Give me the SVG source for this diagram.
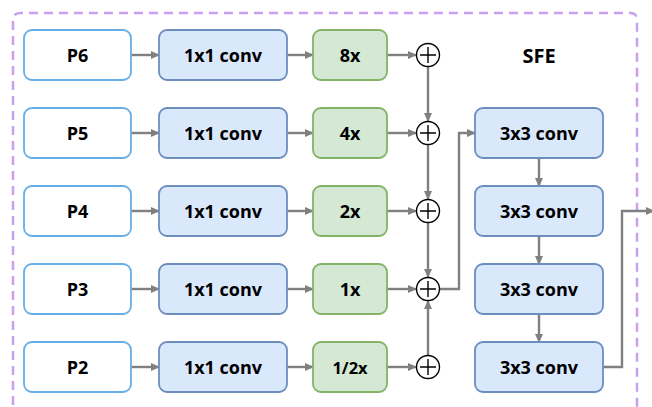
<svg xmlns="http://www.w3.org/2000/svg" width="652" height="407" viewBox="0 0 652 407">
<defs>
<style>
.p{fill:#fff;stroke:#66aee8;stroke-width:1.8}
.c{fill:#dae8fc;stroke:#6c8ebf;stroke-width:1.8}
.g{fill:#d5e8d4;stroke:#82b366;stroke-width:1.8}
.t{font-family:"Open Sans","Liberation Sans",sans-serif;font-weight:bold;font-size:18px;fill:#000;text-anchor:middle;dominant-baseline:central}
.e{fill:none;stroke:#808080;stroke-width:2.4;marker-end:url(#a)}
.s{fill:#fff;stroke:#000;stroke-width:1.4}
.x{stroke:#000;stroke-width:1.4}
</style>
<marker id="a" markerWidth="10" markerHeight="10" refX="8" refY="5" orient="auto" markerUnits="userSpaceOnUse">
<path d="M0,1 L9,5 L0,9 Z" fill="#808080"/>
</marker>
</defs>
<rect width="652" height="407" fill="#fff"/>
<path d="M13,420 L13,20 Q13,13 20,13 L630,13 Q637,13 637,20 L637,420" fill="none" stroke="#c9a0f0" stroke-width="2.5" stroke-dasharray="9,6"/>
<text class="t" x="539" y="55" style="font-size:20px">SFE</text>
<g id="connectors">
<path class="e" d="M131,55 H159"/><path class="e" d="M287,55 H313"/><path class="e" d="M387,55 H416"/>
<path class="e" d="M131,133 H159"/><path class="e" d="M287,133 H313"/><path class="e" d="M387,133 H416"/>
<path class="e" d="M131,211 H159"/><path class="e" d="M287,211 H313"/><path class="e" d="M387,211 H416"/>
<path class="e" d="M131,289 H159"/><path class="e" d="M287,289 H313"/><path class="e" d="M387,289 H416"/>
<path class="e" d="M131,367 H159"/><path class="e" d="M287,367 H313"/><path class="e" d="M387,367 H416"/>
<path class="e" d="M428,67 V121"/>
<path class="e" d="M428,145 V199"/>
<path class="e" d="M428,223 V277"/>
<path class="e" d="M428,355 V301"/>
<path class="e" d="M440,289 H459 V133 H475"/>
<path class="e" d="M539,158 V186"/>
<path class="e" d="M539,236 V264"/>
<path class="e" d="M539,314 V342"/>
<path class="e" d="M603,367 H622 V211 H654"/>
</g>
<g id="p6"><rect class="p" x="24" y="30" width="107" height="50" rx="8"/><text class="t" x="77.5" y="55">P6</text></g>
<g id="p5"><rect class="p" x="24" y="108" width="107" height="50" rx="8"/><text class="t" x="77.5" y="133">P5</text></g>
<g id="p4"><rect class="p" x="24" y="186" width="107" height="50" rx="8"/><text class="t" x="77.5" y="211">P4</text></g>
<g id="p3"><rect class="p" x="24" y="264" width="107" height="50" rx="8"/><text class="t" x="77.5" y="289">P3</text></g>
<g id="p2"><rect class="p" x="24" y="342" width="107" height="50" rx="8"/><text class="t" x="77.5" y="367">P2</text></g>
<g id="c6"><rect class="c" x="159" y="30" width="128" height="50" rx="8"/><text class="t" x="223" y="55">1x1 conv</text></g>
<g id="c5"><rect class="c" x="159" y="108" width="128" height="50" rx="8"/><text class="t" x="223" y="133">1x1 conv</text></g>
<g id="c4"><rect class="c" x="159" y="186" width="128" height="50" rx="8"/><text class="t" x="223" y="211">1x1 conv</text></g>
<g id="c3"><rect class="c" x="159" y="264" width="128" height="50" rx="8"/><text class="t" x="223" y="289">1x1 conv</text></g>
<g id="c2"><rect class="c" x="159" y="342" width="128" height="50" rx="8"/><text class="t" x="223" y="367">1x1 conv</text></g>
<g id="g6"><rect class="g" x="313" y="30" width="74" height="50" rx="8"/><text class="t" x="350" y="55">8x</text></g>
<g id="g5"><rect class="g" x="313" y="108" width="74" height="50" rx="8"/><text class="t" x="350" y="133">4x</text></g>
<g id="g4"><rect class="g" x="313" y="186" width="74" height="50" rx="8"/><text class="t" x="350" y="211">2x</text></g>
<g id="g3"><rect class="g" x="313" y="264" width="74" height="50" rx="8"/><text class="t" x="350" y="289">1x</text></g>
<g id="g2"><rect class="g" x="313" y="342" width="74" height="50" rx="8"/><text class="t" x="350" y="367" style="font-size:16.5px">1/2x</text></g>
<g id="s6"><circle class="s" cx="428" cy="55" r="11.5"/><path class="x" d="M420,55 H436 M428,47 V63"/></g>
<g id="s5"><circle class="s" cx="428" cy="133" r="11.5"/><path class="x" d="M420,133 H436 M428,125 V141"/></g>
<g id="s4"><circle class="s" cx="428" cy="211" r="11.5"/><path class="x" d="M420,211 H436 M428,203 V219"/></g>
<g id="s3"><circle class="s" cx="428" cy="289" r="11.5"/><path class="x" d="M420,289 H436 M428,281 V297"/></g>
<g id="s2"><circle class="s" cx="428" cy="367" r="11.5"/><path class="x" d="M420,367 H436 M428,359 V375"/></g>
<g id="f1"><rect class="c" x="475" y="108" width="128" height="50" rx="8"/><text class="t" x="539" y="133">3x3 conv</text></g>
<g id="f2"><rect class="c" x="475" y="186" width="128" height="50" rx="8"/><text class="t" x="539" y="211">3x3 conv</text></g>
<g id="f3"><rect class="c" x="475" y="264" width="128" height="50" rx="8"/><text class="t" x="539" y="289">3x3 conv</text></g>
<g id="f4"><rect class="c" x="475" y="342" width="128" height="50" rx="8"/><text class="t" x="539" y="367">3x3 conv</text></g>
</svg>
